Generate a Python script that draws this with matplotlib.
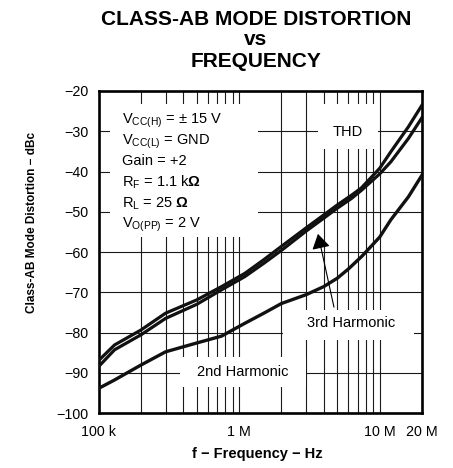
import matplotlib
matplotlib.use("Agg")
import matplotlib.pyplot as plt
from matplotlib.patches import Rectangle
import numpy as np

plt.rcParams['font.family'] = ['Liberation Sans', 'DejaVu Sans']
plt.rcParams['mathtext.fontset'] = 'custom'
plt.rcParams['mathtext.rm'] = 'Liberation Sans'
plt.rcParams['mathtext.bf'] = 'Liberation Sans:bold'

# ---- data ----
freq_pair = [1e5, 1.3e5, 2e5, 3e5, 5e5, 7.5e5, 1.1e6, 1.5e6, 2e6, 3e6, 4e6, 5e6,
             6.3e6, 7.4e6, 1e7, 1.2e7, 1.6e7, 2e7]
thd = [-87.0, -83.1, -79.4, -75.2, -71.9, -68.6, -65.3, -61.9, -58.6, -54.0, -50.8,
       -48.3, -45.9, -44.1, -39.2, -35.1, -28.9, -23.5]
h3 = [-88.5, -84.3, -80.6, -76.5, -73.0, -69.4, -66.1, -62.8, -59.6, -54.8, -51.6,
      -49.1, -46.7, -44.7, -40.6, -37.6, -31.8, -26.6]
freq_2nd = [1e5, 1.3e5, 2e5, 3e5, 5e5, 7.5e5, 1.1e6, 1.5e6, 2e6, 3e6, 4e6, 5e6,
            6e6, 7.5e6, 1e7, 1.2e7, 1.6e7, 2e7]
h2 = [-93.9, -91.8, -88.1, -84.8, -82.6, -80.9, -77.7, -75.2, -72.8, -70.6, -68.6,
      -66.5, -64.2, -61.0, -56.3, -52.0, -46.3, -40.9]

xtick_vals = [1e5, 1e6, 1e7, 2e7]
xtick_labels = ['100 k', '1 M', '10 M', '20 M']
ytick_vals = list(range(-100, -19, 10))

cond_lines = [r'V$_{\mathregular{CC(H)}}$ = ± 15 V',
              r'V$_{\mathregular{CC(L)}}$ = GND',
              'Gain = +2',
              r'R$_{\mathregular{F}}$ = 1.1 k$\mathbf{\Omega}$',
              r'R$_{\mathregular{L}}$ = 25 $\mathbf{\Omega}$',
              r'V$_{\mathregular{O(PP)}}$ = 2 V']

# ---- figure ----
fig = plt.figure(figsize=(4.53, 4.68), dpi=100)
ax = fig.add_axes([98.5/453, 55/468, (422-98.5)/453, (413-91)/468])
ax.set_xscale('log')
ax.set_xlim(1e5, 2e7)
ax.set_ylim(-100, -20)

ax.set_xticks(xtick_vals)
ax.set_xticklabels(xtick_labels)
minor = [m * d for d in (1e5, 1e6) for m in range(2, 10)]
ax.set_xticks(minor, minor=True)
ax.xaxis.set_minor_formatter(matplotlib.ticker.NullFormatter())
ax.set_yticks(ytick_vals)
ax.tick_params(which='both', length=0, labelsize=10.3)
ax.tick_params(axis='y', pad=7)
ax.tick_params(axis='x', pad=9)
ax.set_axisbelow(True)
ax.grid(True, which='both', color='#1a1a1a', lw=0.8)
for s in ax.spines.values():
    s.set_linewidth(1.9)

# white boxes behind text (interrupt grid)
boxes = [(1.2e5, 1.36e6, -56.3, -23.2),
         (3.64e6, 9.7e6, -34.4, -23.2),
         (2.05e6, 1.76e7, -81.9, -74.4),
         (3.8e5, 3.0e6, -93.5, -86.1)]
for x0, x1, y0, y1 in boxes:
    ax.add_patch(Rectangle((x0, y0), x1 - x0, y1 - y0, facecolor='white',
                           edgecolor='none', zorder=1))

ax.plot(freq_pair, thd, color='#111111', lw=2.3, zorder=3, solid_joinstyle='round')
ax.plot(freq_pair, h3, color='#111111', lw=2.3, zorder=3, solid_joinstyle='round')
ax.plot(freq_2nd, h2, color='#111111', lw=2.4, zorder=3, solid_joinstyle='round')

for i, t in enumerate(cond_lines):
    ax.text(1.465e5, -28.1 - i * 5.17, t, fontsize=10.5, va='baseline', ha='left',
            zorder=4)

ax.text(5.93e6, -30.2, 'THD', fontsize=10.5, ha='center', va='center', zorder=4)
ax.text(6.26e6, -77.7, '3rd Harmonic', fontsize=10.5, ha='center', va='center', zorder=4)
ax.text(1.07e6, -89.8, '2nd Harmonic', fontsize=10.5, ha='center', va='center', zorder=4)

ax.annotate('', xy=(3.64e6, -55.5), xytext=(4.73e6, -73.7),
            arrowprops=dict(arrowstyle='-|>,head_length=0.65,head_width=0.4',
                            color='black', lw=0.8, mutation_scale=14,
                            shrinkA=0, shrinkB=0), zorder=5)

fig.text(256/453, 1 - 25/468, 'CLASS-AB MODE DISTORTION', fontsize=15,
         fontweight='bold', ha='center', va='baseline')
fig.text(256/453, 1 - 45/468, 'vs', fontsize=15, fontweight='bold',
         ha='center', va='baseline')
fig.text(256/453, 1 - 67/468, 'FREQUENCY', fontsize=15, fontweight='bold',
         ha='center', va='baseline')

fig.text(257/453, 1 - 458/468, 'f − Frequency − Hz', fontsize=10.5, fontweight='bold',
         ha='center', va='baseline')
fig.text(32.5/453, 1 - 222/468, 'Class-AB Mode Distortion − dBc', fontsize=8.5,
         fontweight='bold', rotation=90, ha='center', va='center')

fig.savefig('out.png', dpi=100)
